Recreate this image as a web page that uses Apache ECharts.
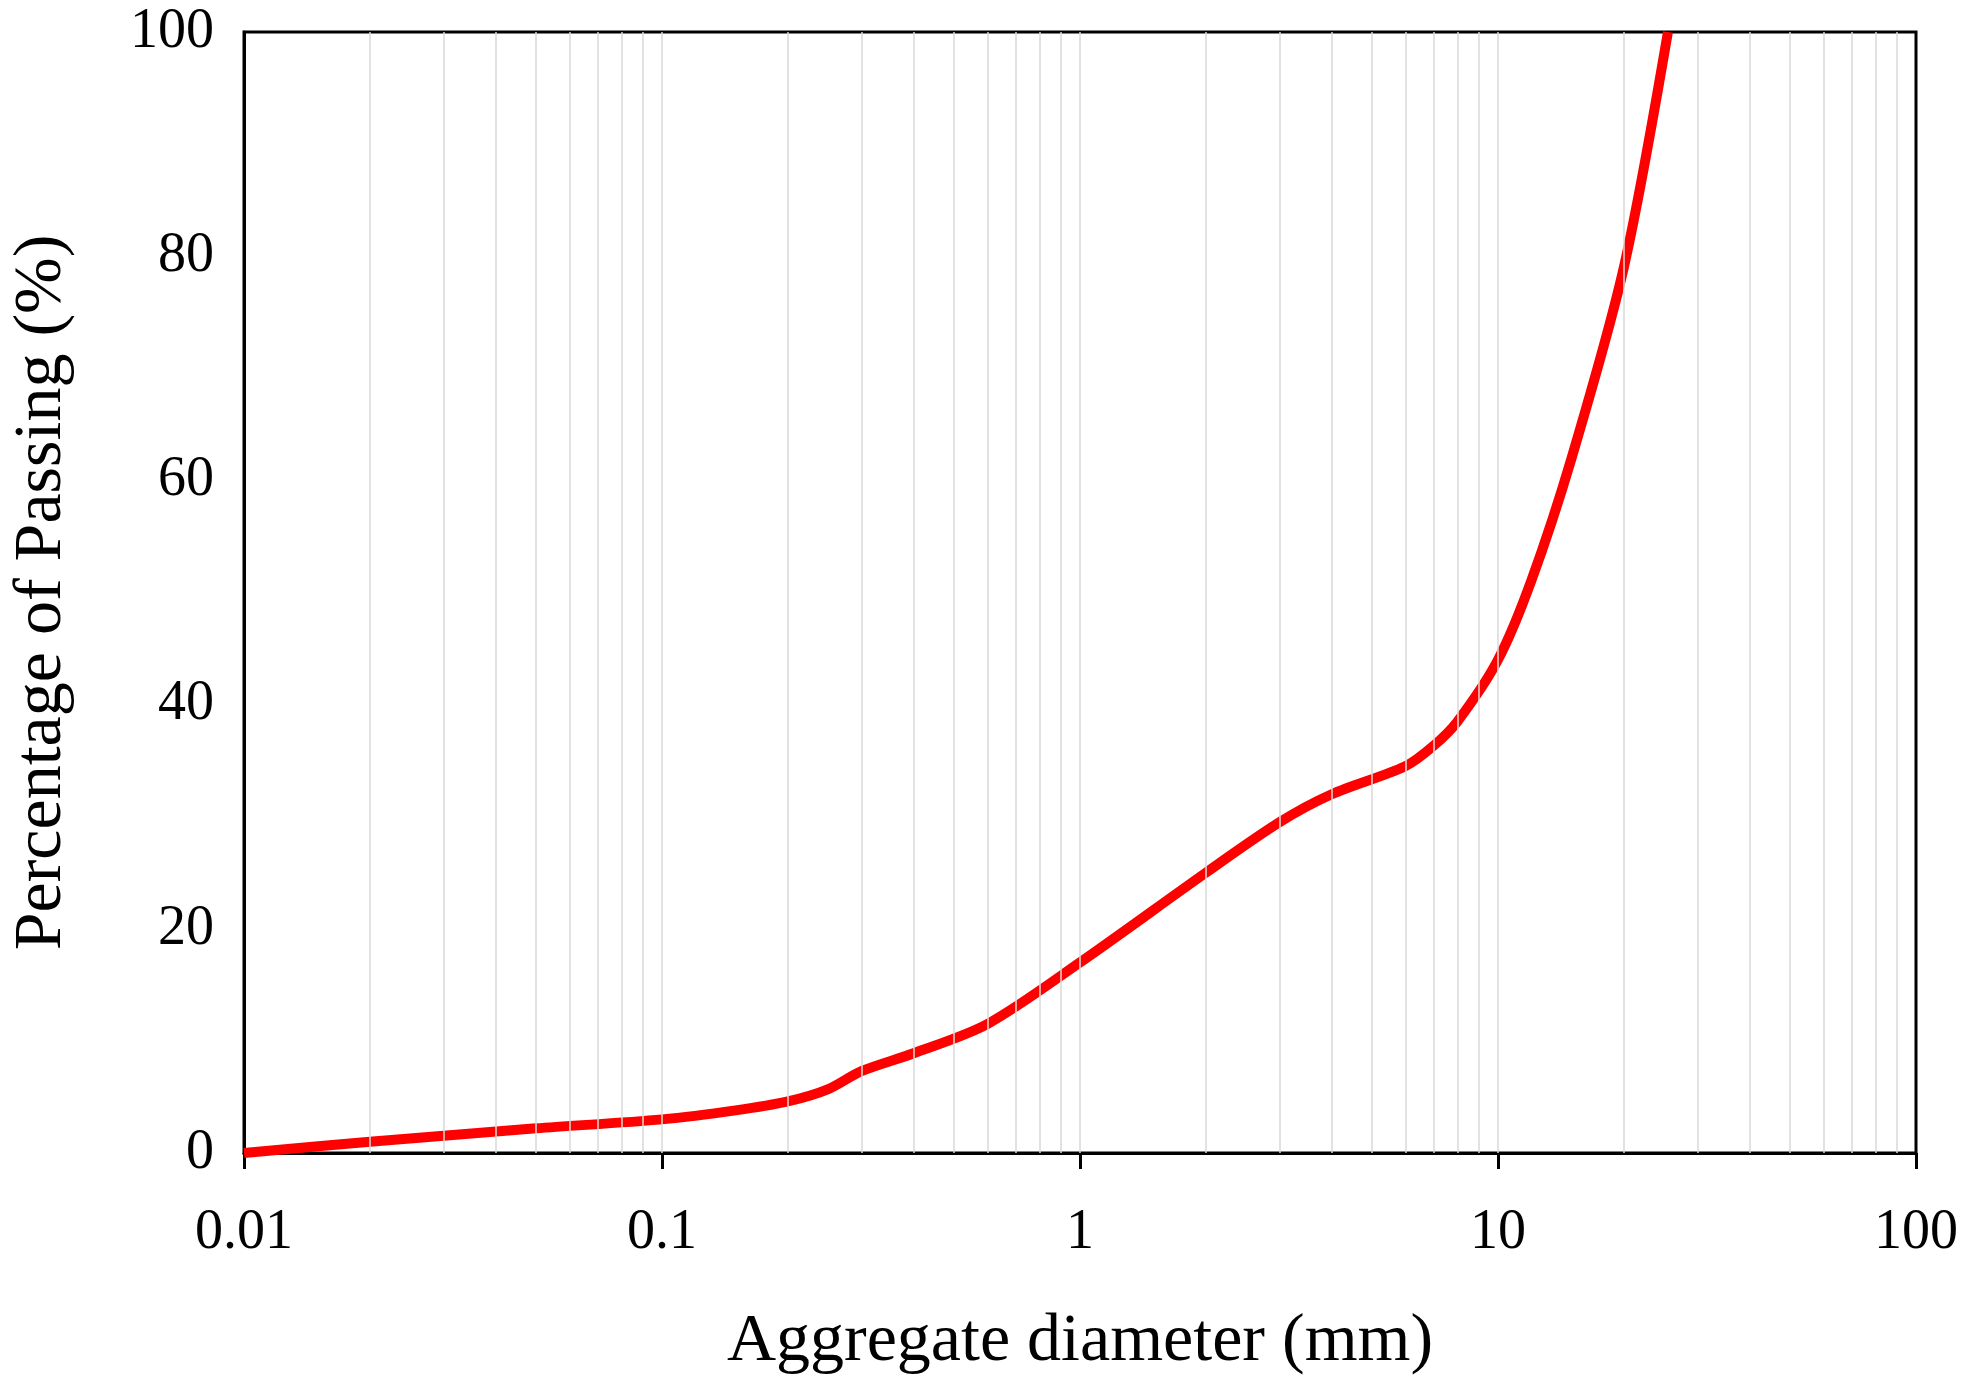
<!DOCTYPE html>
<html>
<head>
<meta charset="UTF-8">
<script src="https://cdn.jsdelivr.net/npm/echarts@6/dist/echarts.min.js"></script>
<style>html,body{margin:0;background:#fff}#main{width:1976px;height:1388px}</style>
</head>
<body>
<div id="main"></div>
<script>
// sieve sizes (mm) and percent passing
var diameters = [0.01, 0.02, 0.05, 0.1, 0.15, 0.2, 0.25, 0.3, 0.4, 0.6, 1, 2, 3, 4, 6, 7, 8, 10, 12, 15, 20, 25.5];
var passing   = [0,    1.0,  2.2,  3.0, 3.8,  4.6, 5.7,  7.3, 8.9, 11.5, 17, 25, 29.5, 32, 34.5, 36.3, 38.5, 44, 51, 62, 79, 100];
var gridValues = [];
[0.01, 0.1, 1, 10].forEach(function (d) {
  for (var k = 1; k <= 9; k++) if (!(k === 1 && d === 0.01)) gridValues.push(+(d * k).toPrecision(3));
});

var font = 'Liberation Serif';
var chart = echarts.init(document.getElementById('main'));
chart.setOption({
  animation: false,
  grid: { left: 242, right: 60, top: 32, bottom: 235, show: true, borderColor: '#000', borderWidth: 3 },
  xAxis: {
    type: 'log', logBase: 10, min: 0.01, max: 100,
    name: 'Aggregate diameter (mm)', nameLocation: 'middle', nameGap: 155,
    nameTextStyle: { fontFamily: font, fontSize: 68, color: '#000' },
    axisLine: { lineStyle: { color: '#000', width: 3 } },
    axisTick: { show: true, length: 16, lineStyle: { color: '#000', width: 3 } },
    axisLabel: { fontFamily: font, fontSize: 56, color: '#000', margin: 52 },
    splitLine: { show: false }
  },
  yAxis: {
    type: 'value', min: 0, max: 100, interval: 20,
    name: 'Percentage of Passing (%)', nameLocation: 'middle', nameGap: 168,
    nameTextStyle: { fontFamily: font, fontSize: 68, color: '#000' },
    axisLine: { show: true, lineStyle: { color: '#000', width: 3 } },
    axisTick: { show: false },
    axisLabel: { fontFamily: font, fontSize: 56, color: '#000', margin: 30 },
    splitLine: { show: false }
  },
  series: [
    {
      type: 'line', data: [], silent: true,
      markLine: {
        symbol: 'none', silent: true, label: { show: false },
        lineStyle: { color: '#d9d9d9', width: 1.5, type: 'solid' },
        data: gridValues.map(function (v) { return { xAxis: v }; })
      }
    },
    {
      type: 'line', smooth: 0.3, showSymbol: false,
      lineStyle: { color: '#ff0000', width: 10 },
      data: diameters.map(function (d, i) { return [d, passing[i]]; })
    }
  ]
});
</script>
</body>
</html>
